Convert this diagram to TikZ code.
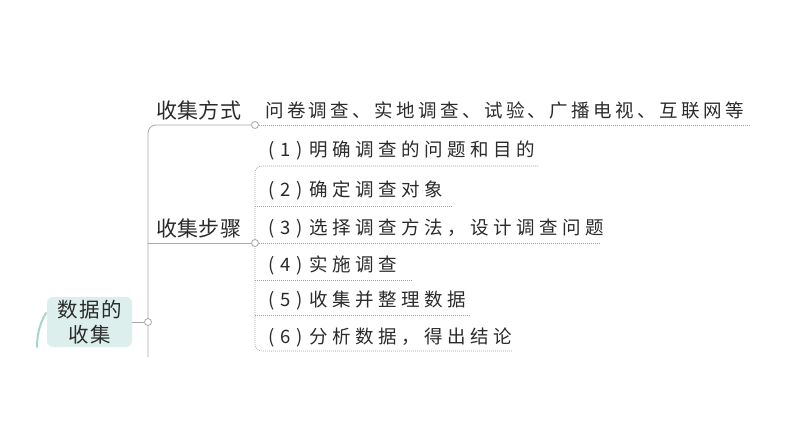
\documentclass[tikz,border=0pt]{standalone}
\usepackage{fontspec}
\setmainfont{Noto Sans CJK SC}
\usetikzlibrary{backgrounds}
\definecolor{txt}{HTML}{2B2B2B}
\definecolor{solidgray}{HTML}{A8A8A8}
\definecolor{dotgray}{HTML}{A0A0A0}
\definecolor{rootfill}{HTML}{DDEFEC}
\definecolor{arcteal}{HTML}{A6D5CD}
\makeatletter
\def\my@end{my@end@marker}
\newcommand\spc[2]{\def\my@sp{#2}\my@loop#1\my@end}
\def\my@loop#1{\ifx#1\my@end\else#1\hspace{\my@sp}\expandafter\my@loop\fi}
\makeatother
\newcommand\pfx[1]{\makebox[46pt][l]{\hspace{5pt}(\hspace{6pt}#1\hspace{6pt})}}
\tikzset{
  rootbox/.style={rectangle, rounded corners=6pt, fill=rootfill, minimum width=85pt, minimum height=50pt, inner sep=0pt, align=center, text=txt, font=\fontsize{20.5}{25}\selectfont},
  dotnode/.style={circle, draw=solidgray, fill=white, line width=0.8pt, minimum size=7pt, inner sep=0pt},
  titletext/.style={anchor=west, inner sep=0pt, text=txt, font=\fontsize{21}{24}\selectfont},
  itemtext/.style={anchor=west, inner sep=0pt, text=txt, font=\fontsize{18.5}{21}\selectfont},
  trunk/.style={draw=solidgray, line width=0.8pt},
  dotline/.style={draw=dotgray, line width=0.6pt, dash pattern=on 0.8pt off 1.2pt}
}
\begin{document}
\begin{tikzpicture}[x=1pt,y=-1pt]
\useasboundingbox (0,0) rectangle (794,447);
% nodes
\node[rootbox] (root) at (89.5,322) {\spc{数据的}{1.5pt}\\\spc{收集}{1.5pt}};
\node[dotnode] (c0) at (148,322) {};
\node[dotnode] (c1) at (255,125) {};
\node[dotnode] (c2) at (255,243) {};
\coordinate (tb) at (148,357);
\coordinate (e0) at (750,125);
\coordinate (e1) at (538,166);
\coordinate (e2) at (453,206);
\coordinate (e3) at (600,243);
\coordinate (e4) at (412,280);
\coordinate (e5) at (470,315);
\coordinate (e6) at (512,351);
\node[titletext] (t1) at (156,110) {\spc{收集方式}{0.3pt}};
\node[titletext] (t2) at (156,228) {\spc{收集步骤}{0.3pt}};
\node[itemtext] (w0) at (265,110) {\spc{问卷调查、实地调查、试验、广播电视、互联网等}{3.4pt}};
\node[itemtext] (s1) at (263,151) {\pfx{1}\spc{明确调查的问题和目的}{4.5pt}};
\node[itemtext] (s2) at (263,190) {\pfx{2}\spc{确定调查对象}{4.5pt}};
\node[itemtext] (s3) at (263,228) {\pfx{3}\spc{选择调查方法，设计调查问题}{4.5pt}};
\node[itemtext] (s4) at (263,265) {\pfx{4}\spc{实施调查}{4.5pt}};
\node[itemtext] (s5) at (263,301) {\pfx{5}\spc{收集并整理数据}{4.5pt}};
\node[itemtext] (s6) at (263,338) {\pfx{6}\spc{分析数据，得出结论}{4.5pt}};
\begin{pgfonlayer}{background}
\fill[white] (0,0) rectangle (794,447);
\draw[arcteal, line width=2pt, line cap=round] (46,313) .. controls (40,323) and (37,334) .. (37,347);
\draw[trunk] (root.east) -- (c0);
\draw[trunk, rounded corners=8pt] (tb) -- (tb |- c1) -- (c1);
\draw[trunk] (tb |- c2) -- (c2);
\draw[dotline] (c1) -- (e0);
\draw[dotline, rounded corners=7pt] (e1) -- (e1 -| c2) -- (e6 -| c2) -- (e6);
\draw[dotline] (c2 |- e2) -- (e2);
\draw[dotline] (c2) -- (e3);
\draw[dotline] (c2 |- e4) -- (e4);
\draw[dotline] (c2 |- e5) -- (e5);
\end{pgfonlayer}
\end{tikzpicture}
\end{document}
